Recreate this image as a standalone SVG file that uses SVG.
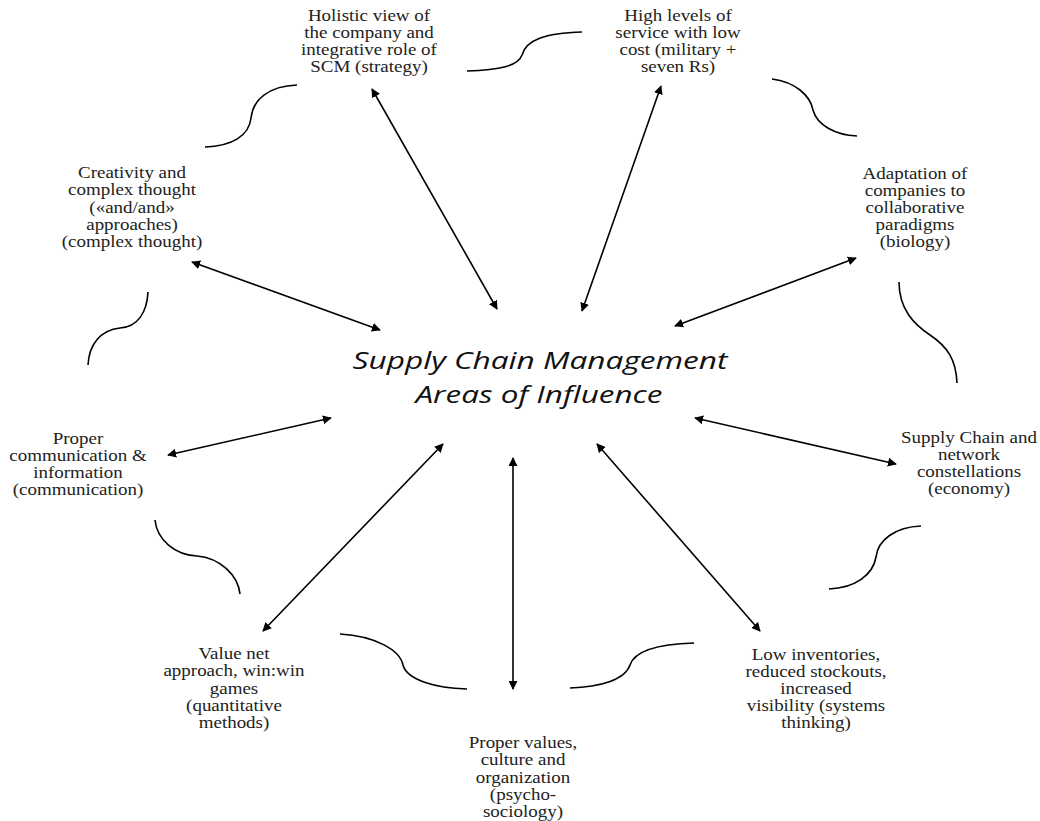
<svg xmlns="http://www.w3.org/2000/svg" width="1040" height="821" viewBox="0 0 1040 821">
<defs>
<marker id="ah" viewBox="0 0 10 10" refX="9" refY="5" markerWidth="9" markerHeight="9" markerUnits="userSpaceOnUse" orient="auto-start-reverse">
<path d="M0,0 L10,5 L0,10 Z" fill="#000"/>
</marker>
<style>
.lbl{font-family:"Liberation Serif","Times New Roman",serif;font-size:16.5px;fill:#222;text-anchor:middle}
.ctr{font-family:"Open Sans","Liberation Sans",sans-serif;font-style:italic;font-size:23px;fill:#111;text-anchor:middle}
.arr{stroke:#000;stroke-width:1.6;fill:none;marker-start:url(#ah);marker-end:url(#ah)}
.sw{stroke:#000;stroke-width:1.6;fill:none}
</style>
</defs>
<rect width="1040" height="821" fill="#fff"/>
<g id="center">
<text class="ctr" x="540" y="369" textLength="375" lengthAdjust="spacingAndGlyphs">Supply Chain Management</text>
<text class="ctr" x="539" y="403" textLength="247" lengthAdjust="spacingAndGlyphs">Areas of Influence</text>
</g>
<g id="n-strategy" transform="translate(369,0) scale(1.15,1)">
<text class="lbl" y="21"><tspan x="0">Holistic view of</tspan><tspan x="0" dy="17">the company and</tspan><tspan x="0" dy="17">integrative role of</tspan><tspan x="0" dy="17">SCM (strategy)</tspan></text>
</g>
<g id="n-military" transform="translate(678,0) scale(1.15,1)">
<text class="lbl" y="21"><tspan x="0">High levels of</tspan><tspan x="0" dy="17">service with low</tspan><tspan x="0" dy="17">cost (military +</tspan><tspan x="0" dy="17">seven Rs)</tspan></text>
</g>
<g id="n-complex" transform="translate(132,0) scale(1.15,1)">
<text class="lbl" y="178"><tspan x="0">Creativity and</tspan><tspan x="0" dy="17.3">complex thought</tspan><tspan x="0" dy="17.3">(«and/and»</tspan><tspan x="0" dy="17.3">approaches)</tspan><tspan x="0" dy="17.3">(complex thought)</tspan></text>
</g>
<g id="n-biology" transform="translate(915,0) scale(1.15,1)">
<text class="lbl" y="179"><tspan x="0">Adaptation of</tspan><tspan x="0" dy="17">companies to</tspan><tspan x="0" dy="17">collaborative</tspan><tspan x="0" dy="17">paradigms</tspan><tspan x="0" dy="17">(biology)</tspan></text>
</g>
<g id="n-communication" transform="translate(78,0) scale(1.15,1)">
<text class="lbl" y="444"><tspan x="0">Proper</tspan><tspan x="0" dy="17">communication &amp;</tspan><tspan x="0" dy="17">information</tspan><tspan x="0" dy="17">(communication)</tspan></text>
</g>
<g id="n-economy" transform="translate(969,0) scale(1.15,1)">
<text class="lbl" y="443"><tspan x="0">Supply Chain and</tspan><tspan x="0" dy="17">network</tspan><tspan x="0" dy="17">constellations</tspan><tspan x="0" dy="17">(economy)</tspan></text>
</g>
<g id="n-quantitative" transform="translate(234,0) scale(1.15,1)">
<text class="lbl" y="659"><tspan x="0">Value net</tspan><tspan x="0" dy="17.3">approach, win:win</tspan><tspan x="0" dy="17.3">games</tspan><tspan x="0" dy="17.3">(quantitative</tspan><tspan x="0" dy="17.3">methods)</tspan></text>
</g>
<g id="n-psychosociology" transform="translate(523,0) scale(1.15,1)">
<text class="lbl" y="748"><tspan x="0">Proper values,</tspan><tspan x="0" dy="17.3">culture and</tspan><tspan x="0" dy="17.3">organization</tspan><tspan x="0" dy="17.3">(psycho-</tspan><tspan x="0" dy="17.3">sociology)</tspan></text>
</g>
<g id="n-systems" transform="translate(816,0) scale(1.15,1)">
<text class="lbl" y="660"><tspan x="0">Low inventories,</tspan><tspan x="0" dy="17">reduced stockouts,</tspan><tspan x="0" dy="17">increased</tspan><tspan x="0" dy="17">visibility (systems</tspan><tspan x="0" dy="17">thinking)</tspan></text>
</g>
<g id="connectors">
<line class="arr" x1="372" y1="89" x2="497" y2="309"/>
<line class="arr" x1="661" y1="86" x2="582" y2="311"/>
<line class="arr" x1="192" y1="262" x2="380" y2="330"/>
<line class="arr" x1="675" y1="326" x2="856" y2="258"/>
<line class="arr" x1="168" y1="455" x2="331" y2="418"/>
<line class="arr" x1="695" y1="418" x2="896" y2="464"/>
<line class="arr" x1="263" y1="631" x2="443" y2="444"/>
<line class="arr" x1="513" y1="458" x2="513" y2="689"/>
<line class="arr" x1="597" y1="444" x2="760" y2="631"/>
</g>
<g id="swirls">
<path class="sw" d="M297,85 C268,86 253,100 251,118 C249,136 232,146 205,147"/>
<path class="sw" d="M467,71 C500,70 518,66 522,55 C526,40 545,33 582,32"/>
<path class="sw" d="M772,79 C795,82 810,95 813,110 C817,125 835,135 857,136"/>
<path class="sw" d="M899,282 C899,310 915,325 930,335 C948,347 956,360 957,383"/>
<path class="sw" d="M921,526 C895,527 878,540 876,557 C873,575 855,588 829,589"/>
<path class="sw" d="M694,643 C660,644 635,650 630,665 C625,680 600,687 570,688"/>
<path class="sw" d="M340,634 C375,636 400,650 403,665 C407,680 435,688 467,689"/>
<path class="sw" d="M155,520 C157,540 175,555 197,556 C220,558 238,575 240,594"/>
<path class="sw" d="M148,292 C147,312 138,327 120,328 C100,330 89,345 88,365"/>
</g>
</svg>
